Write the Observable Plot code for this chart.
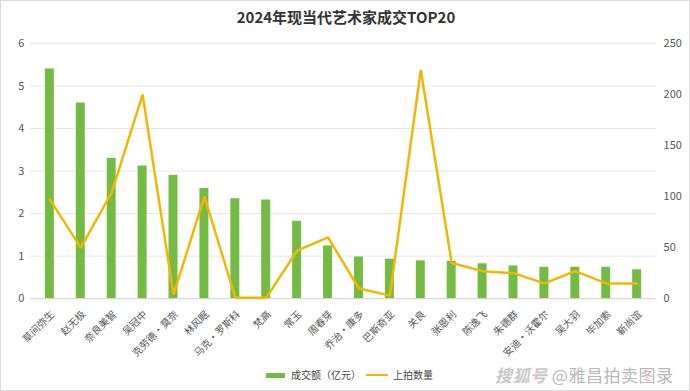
<!DOCTYPE html>
<html><head><meta charset="utf-8">
<script src="https://cdn.jsdelivr.net/npm/d3@7"></script>
<script src="https://cdn.jsdelivr.net/npm/@observablehq/plot@0.6"></script>
<style>
body{margin:0;background:#fff;font-family:"Noto Sans CJK SC","Noto Sans",sans-serif;}
#wrap{position:relative;width:690px;height:391px;box-sizing:border-box;border:1px solid #dcdcdc;overflow:hidden;background:#fff;}
#title{position:absolute;left:0;top:5px;width:690px;text-align:center;font-size:15px;font-weight:bold;color:#333;line-height:22px;}
#chart{position:absolute;left:0;top:30px;}
#legend{position:absolute;left:265px;top:366px;display:flex;align-items:center;font-size:10px;color:#444;line-height:16px;}
.sw{display:inline-block;width:19px;height:5px;background:#74bb43;margin-right:6px;}
.ln{display:inline-block;width:22px;height:2.5px;background:#f2b705;margin:0 5px 0 5px;}
#wm{position:absolute;left:494px;top:362px;font-size:17px;color:#b8b8b8;line-height:24px;letter-spacing:0.5px;}
#wm i{font-weight:bold;font-style:italic;color:#c8c8c8;}
</style></head>
<body>
<div id="wrap">
  <div id="title">2024年现当代艺术家成交TOP20</div>
  <div id="chart"></div>
  <div id="legend"><span class="sw"></span><span>成交额（亿元）</span><span class="ln"></span><span>上拍数量</span></div>
  <div id="wm"><i>搜狐号</i> @雅昌拍卖图录</div>
</div>
<script>
const artists = ["草间弥生","赵无极","奈良美智","吴冠中","克劳德·莫奈","林风眠","马克·罗斯科","梵高","常玉","周春芽","乔治·康多","巴斯奇亚","关良","张恩利","陈逸飞","朱德群","安迪·沃霍尔","吴大羽","毕加索","靳尚谊"];
const amounts = [5.4,4.6,3.3,3.12,2.9,2.59,2.35,2.32,1.82,1.24,0.98,0.93,0.89,0.88,0.82,0.77,0.74,0.74,0.74,0.68];
const counts = [97,50,104,200,4,100,1,1,47,60,10,3,224,35,27,25,15,27,15,15];
const leftTicks = [0,1,2,3,4,5,6];
const rightTicks = [0,50,100,150,200,250];
const leftMax = 6, rightMax = 250;

const data = artists.map((a,i)=>({artist:a, amount:amounts[i], count:counts[i], scaled:counts[i]*leftMax/rightMax}));

const chart = Plot.plot({
  width: 690,
  height: 330,
  marginTop: 12,
  marginBottom: 62,
  marginLeft: 29,
  marginRight: 33,
  style: {fontFamily: '"Noto Sans CJK SC","Noto Sans",sans-serif', fontSize: "10px", color: "#555", background: "transparent"},
  x: {domain: artists, type: "band", paddingInner: 0.7, paddingOuter: 0.35, label: null},
  y: {domain: [0, leftMax], label: null},
  marks: [
    Plot.gridY(leftTicks.slice(1), {stroke: "#e6e6e6", strokeOpacity: 1}),
    Plot.barY(data, {x: "artist", y: "amount", fill: "#74bb43"}),
    Plot.ruleY([0], {stroke: "#d0d0d0"}),
    Plot.line(data, {x: "artist", y: "scaled", stroke: "#f2b705", strokeWidth: 2.5, strokeLinejoin: "miter"}),
    Plot.axisY(leftTicks, {anchor: "left", tickSize: 0, tickPadding: 6, label: null, fontSize: 11, fill: "#555"}),
    Plot.axisY(rightTicks.map(v => v*leftMax/rightMax), {anchor: "right", tickSize: 0, tickPadding: 7, label: null, fontSize: 11, fill: "#555", tickFormat: d => String(Math.round(d*rightMax/leftMax))}),
    Plot.axisX({tickSize: 0, tickPadding: 14, tickRotate: -45, dx: 3, label: null, fontSize: 10, fill: "#555"})
  ]
});
document.getElementById("chart").appendChild(chart);
</script>
</body></html>
